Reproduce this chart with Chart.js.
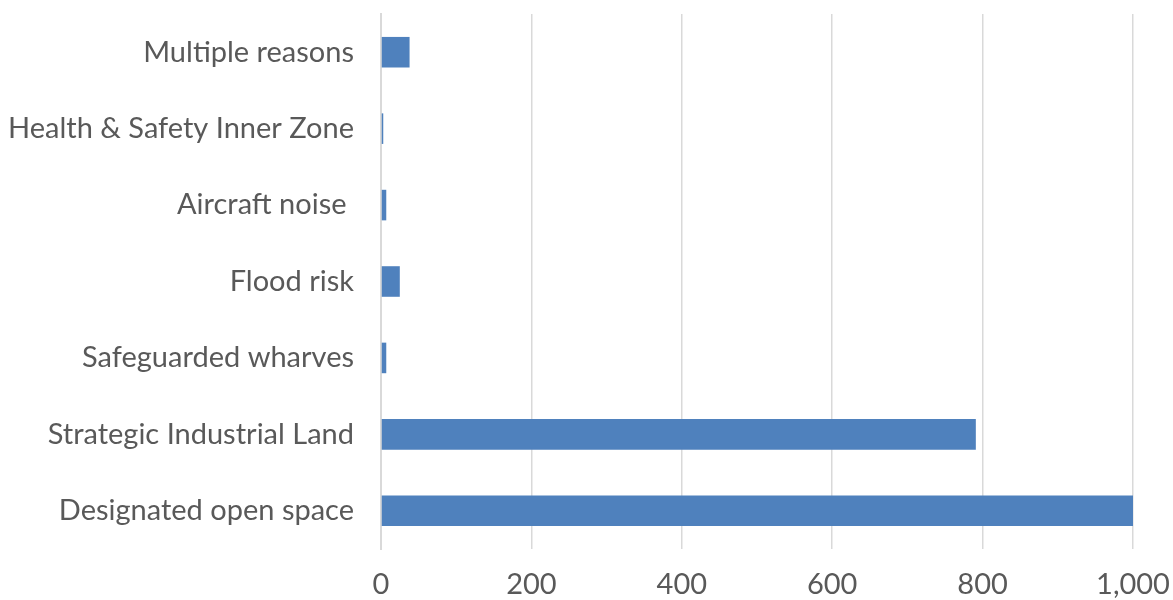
<!DOCTYPE html>
<html>
<head>
<meta charset="utf-8">
<script src="https://cdn.jsdelivr.net/npm/chart.js@4"></script>
<style>
html,body{margin:0;padding:0;background:#fff;}
#wrap{width:1173px;height:600px;position:relative;}
</style>
</head>
<body>
<div id="wrap"><canvas id="c"></canvas></div>
<script>
const categories = ["Multiple reasons","Health & Safety Inner Zone","Aircraft noise ","Flood risk","Safeguarded wharves","Strategic Industrial Land","Designated open space"];
const values = [38, 3, 7, 25, 7, 791, 1000];
const xTicks = [0, 200, 400, 600, 800, 1000];

const FONT = "Lato, 'Open Sans', sans-serif";
new Chart(document.getElementById('c'), {
  type: 'bar',
  data: {
    labels: categories,
    datasets: [{
      data: values,
      backgroundColor: '#4F81BD',
      borderWidth: 0,
      barPercentage: 0.4,
      categoryPercentage: 1.0
    }]
  },
  options: {
    indexAxis: 'y',
    responsive: true,
    maintainAspectRatio: false,
    animation: false,
    layout: { padding: { top: 14, right: 40, bottom: 0, left: 0 } },
    plugins: { legend: { display: false }, tooltip: { enabled: false } },
    scales: {
      x: {
        min: 0, max: 1000,
        afterBuildTicks: s => { s.ticks = xTicks.map(v => ({ value: v })); },
        afterFit: s => { s.height = 51; s.paddingLeft = 0; s.paddingRight = 0; },
        grid: { color: '#d9d9d9', lineWidth: 1.5, drawTicks: false },
        border: { display: false },
        ticks: {
          color: '#595959', padding: 18,
          font: { family: FONT, size: 29 },
          callback: v => v.toLocaleString('en-US')
        }
      },
      y: {
        afterFit: s => { s.width = 381; s.paddingTop = 0; s.paddingBottom = 0; },
        grid: { display: false, drawTicks: false },
        border: { display: true, color: '#d9d9d9', width: 2 },
        ticks: {
          color: '#595959', padding: 27,
          font: { family: FONT, size: 29 }
        }
      }
    }
  }
});
</script>
</body>
</html>
